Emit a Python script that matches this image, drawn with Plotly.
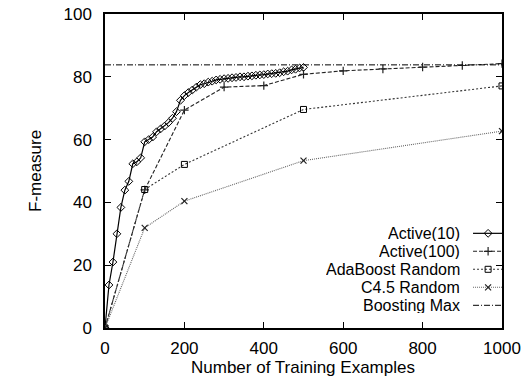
import plotly.graph_objects as go

# ---- data ----
active10_x = list(range(0, 501, 10))
active10_y = [0, 13.7, 21, 30, 38.4, 43.9, 46.7, 52.3, 52.9, 54.2,
              59.3, 60, 60.8, 62.5, 63.4, 64.3, 65.4, 66.8, 68.9, 72.5,
              74, 75, 75.8, 76.7, 77.5, 77.8, 78.3, 78.6, 79, 79.2,
              79.4, 79.5, 79.7, 79.8, 80, 80, 80.2, 80.3, 80.5, 80.6,
              80.7, 80.9, 81, 81.1, 81.3, 81.6, 81.8, 82.2, 82.4, 82.8, 83]
active100_x = [0, 100, 200, 300, 400, 500, 600, 700, 800, 900, 1000]
active100_y = [0, 44, 69.4, 76.7, 77.2, 80.8, 81.9, 82.5, 83.1, 83.6, 84.2]
ada_x = [0, 100, 200, 500, 1000]
ada_y = [0, 44.1, 52.1, 69.6, 77.1]
c45_x = [0, 100, 200, 500, 1000]
c45_y = [0, 31.9, 40.4, 53.3, 62.7]
bmax_x = [0, 1000]
bmax_y = [83.8, 83.8]

names = ["Active(10)", "Active(100)", "AdaBoost Random", "C4.5 Random", "Boosting Max"]
xticks = [0, 200, 400, 600, 800, 1000]
yticks = [0, 20, 40, 60, 80, 100]

FONT = "Liberation Sans, Arial, Helvetica, sans-serif"
styles = [
    dict(line=dict(color="black", width=1.2), marker=dict(symbol="diamond-open", size=6, color="black", line=dict(width=1)), mode="lines+markers"),
    dict(line=dict(color="#222", width=1.1, dash="4px,2px"), marker=dict(symbol="cross-thin", size=6, line=dict(width=1.2, color="#222")), mode="lines+markers"),
    dict(line=dict(color="#333", width=1.1, dash="2px,2px"), marker=dict(symbol="square-open", size=6, color="black", line=dict(width=1)), mode="lines+markers"),
    dict(line=dict(color="#666", width=1.1, dash="1px,1px"), marker=dict(symbol="x-thin", size=6, line=dict(width=1.2, color="#222")), mode="lines+markers"),
    dict(line=dict(color="black", width=1, dash="6px,2px,1px,2px"), mode="lines"),
]
series = [(active10_x, active10_y), (active100_x, active100_y), (ada_x, ada_y), (c45_x, c45_y), (bmax_x, bmax_y)]

fig = go.Figure()
for (xs, ys), st, nm in zip(series, styles, names):
    fig.add_trace(go.Scatter(x=xs, y=ys, name=nm, showlegend=False, hoverinfo="skip", **st))

# manual gnuplot-style key (samples on an overlay axis in plot fractions)
key_y = [0.3015, 0.2442, 0.1869, 0.1296, 0.0723]
for ky, st, nm in zip(key_y, styles, names):
    fig.add_trace(go.Scatter(x=[0.927, 1.0], y=[ky, ky], xaxis="x2", yaxis="y2",
                             mode="lines", line=st["line"], showlegend=False, hoverinfo="skip"))
    if "marker" in st:
        fig.add_trace(go.Scatter(x=[0.965], y=[ky], xaxis="x2", yaxis="y2", mode="markers",
                                 marker=st["marker"], showlegend=False, hoverinfo="skip"))
    fig.add_annotation(x=0.898, y=ky, xref="paper", yref="paper", text=nm, showarrow=False,
                       xanchor="right", yanchor="middle", height=16, valign="middle",
                       font=dict(size=16, color="black", family=FONT))

axis_common = dict(showline=True, linecolor="black", linewidth=1.5, mirror="allticks",
                   ticks="inside", ticklen=6, tickwidth=1, tickcolor="black",
                   showgrid=False, zeroline=False, automargin=False,
                   tickfont=dict(size=17, color="black", family=FONT))
fig.update_layout(
    width=522, height=377,
    margin=dict(l=105, r=20, t=14, b=49, autoexpand=False),
    paper_bgcolor="white", plot_bgcolor="white",
    font=dict(family=FONT, size=17, color="black"),
    xaxis=dict(range=[0, 1000], tickvals=xticks, ticklabelstandoff=4, **axis_common),
    yaxis=dict(range=[0, 100], tickvals=yticks, ticklabelstandoff=8, **axis_common),
    xaxis2=dict(range=[0, 1], overlaying="x", visible=False),
    yaxis2=dict(range=[0, 1], overlaying="y", visible=False),
)
fig.add_annotation(x=(303 - 105) / 397, y=(328 - 367) / 314, xref="paper", yref="paper",
                   text="Number of Training Examples", showarrow=False, height=17, valign="middle",
                   xanchor="center", yanchor="middle", font=dict(size=17, family=FONT))
fig.add_annotation(x=(35 - 105) / 397, y=(328 - 171) / 314, xref="paper", yref="paper",
                   text="F-measure", showarrow=False, textangle=-90,
                   xanchor="center", yanchor="middle", font=dict(size=17, family=FONT))

fig.write_html("out.html")
